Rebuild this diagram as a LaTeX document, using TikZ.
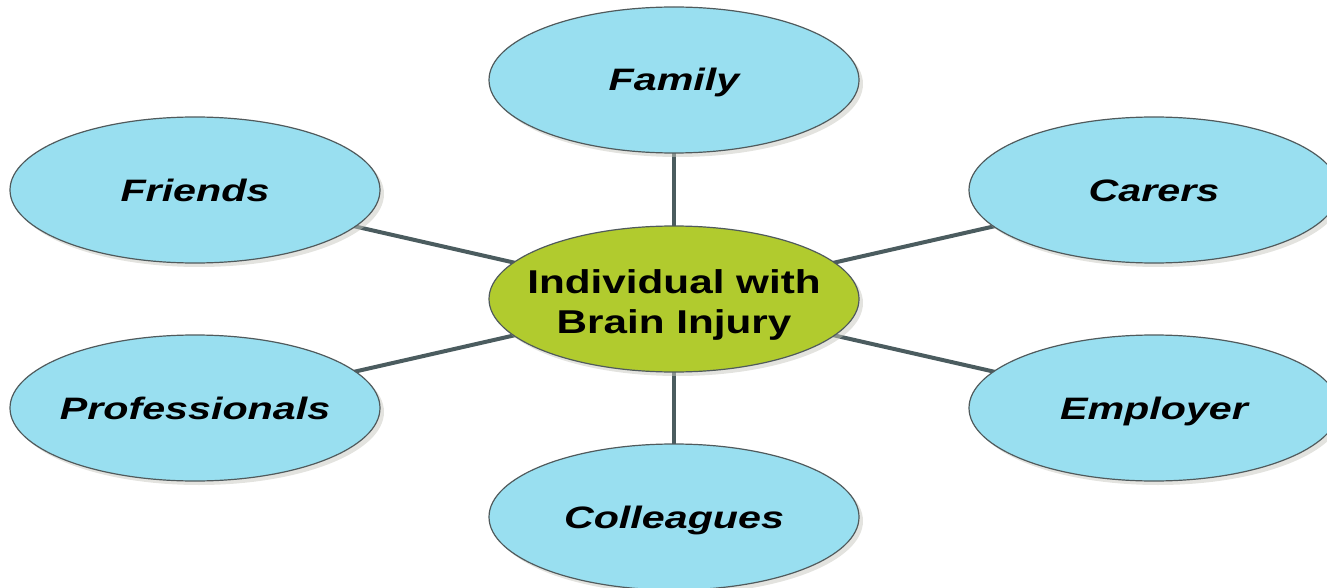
\documentclass[tikz,border=0pt]{standalone}
\usepackage{fontspec}
\setmainfont{Liberation Sans}
\usepackage{graphicx}
\usetikzlibrary{shapes.geometric,shadows,backgrounds}
\definecolor{bubble}{RGB}{153,223,240}
\definecolor{hub}{RGB}{177,203,46}
\definecolor{rim}{RGB}{80,90,92}
\definecolor{link}{RGB}{75,92,95}
\definecolor{shade}{RGB}{200,200,192}
\newcommand{\lbl}[1]{\makebox[0pt][c]{\smash{\raisebox{-11pt}{\scalebox{1.33}[1]{#1}}}}}
\begin{document}
\begin{tikzpicture}[x=1pt,y=-1pt,
  oval/.style={ellipse, draw=rim, line width=1.2pt, fill=bubble,
    minimum width=370pt, minimum height=146pt, inner sep=0pt,
    text height=0pt, text depth=0pt,
    drop shadow={shadow xshift=4pt, shadow yshift=-4pt, fill=shade, opacity=0.5},
    font=\fontsize{31}{37}\selectfont\bfseries\itshape},
  hubstyle/.style={oval, fill=hub, font=\fontsize{33}{40}\selectfont\bfseries},
  linkline/.style={draw=link, line width=4pt}]
\useasboundingbox (0,0) rectangle (1327,588);
\node[hubstyle] (hub) at (674,299) {\makebox[0pt][c]{\smash{\raisebox{6pt}{\scalebox{1.28}[1]{\begin{tabular}[t]{@{}c@{}}Individual with\\Brain Injury\end{tabular}}}}}};
\node[oval] (family) at (674,80) {\lbl{Family}};
\node[oval] (friends) at (195,190) {\lbl{Friends}};
\node[oval] (carers) at (1154,190) {\lbl{Carers}};
\node[oval] (prof) at (195,408) {\lbl{Professionals}};
\node[oval] (employer) at (1154,408) {\lbl{Employer}};
\node[oval] (colleagues) at (674,517) {\lbl{Colleagues}};
\begin{scope}[on background layer]
\foreach \n in {family,friends,carers,prof,employer,colleagues}
  \draw[linkline] (hub.center) -- (\n.center);
\end{scope}
\end{tikzpicture}
\end{document}
